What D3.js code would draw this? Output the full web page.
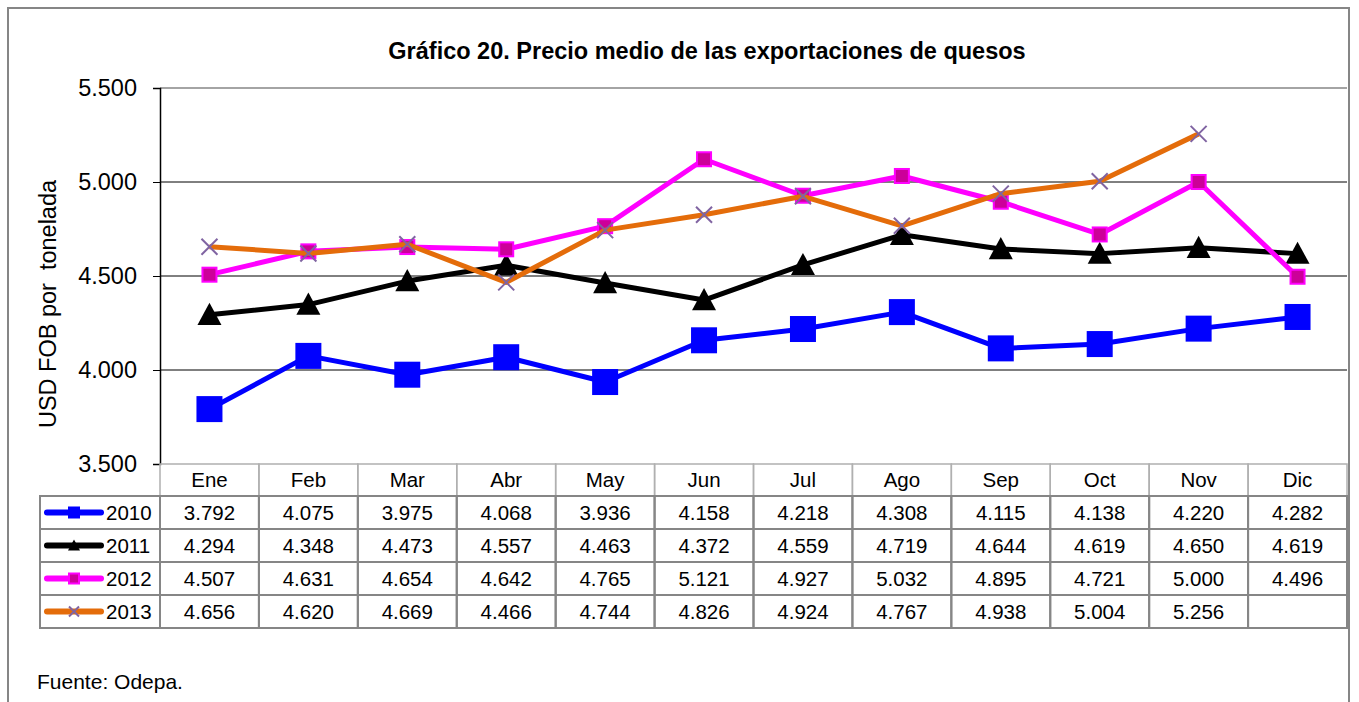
<!DOCTYPE html>
<html>
<head>
<meta charset="utf-8">
<script src="https://cdn.jsdelivr.net/npm/d3@7"></script>
<style>
  body { margin: 0; background: #fff; }
  svg { font-family: "Liberation Sans", Arial, sans-serif; }
</style>
</head>
<body>
<div id="chart"></div>
<script>
const months = ['Ene', 'Feb', 'Mar', 'Abr', 'May', 'Jun', 'Jul', 'Ago', 'Sep', 'Oct', 'Nov', 'Dic'];
const years = ['2010', '2011', '2012', '2013'];
const v2010 = [3792, 4075, 3975, 4068, 3936, 4158, 4218, 4308, 4115, 4138, 4220, 4282];
const v2011 = [4294, 4348, 4473, 4557, 4463, 4372, 4559, 4719, 4644, 4619, 4650, 4619];
const v2012 = [4507, 4631, 4654, 4642, 4765, 5121, 4927, 5032, 4895, 4721, 5000, 4496];
const v2013 = [4656, 4620, 4669, 4466, 4744, 4826, 4924, 4767, 4938, 5004, 5256, null];
const yTicks = [3500, 4000, 4500, 5000, 5500];

const series = [
  { name: years[0], values: v2010, line: '#0000FF', marker: 'square', size: 24, fill: '#0000FF', stroke: '#0000FF', width: 5 },
  { name: years[1], values: v2011, line: '#000000', marker: 'triangle', size: 24, fill: '#000000', stroke: '#000000', width: 5 },
  { name: years[2], values: v2012, line: '#FF00FF', marker: 'square', size: 14, fill: '#CC0099', stroke: '#FF00FF', width: 5 },
  { name: years[3], values: v2013, line: '#E46C0A', marker: 'cross', size: 16, fill: 'none', stroke: '#8064A2', width: 5 }
];

const W = 1359, H = 702;
const margin = { left: 160, right: 12, top: 88, bottom: 238 };
const plotW = W - margin.left - margin.right;
const plotH = H - margin.top - margin.bottom;

const fmt = d3.formatLocale({ decimal: ',', thousands: '.', grouping: [3], currency: ['', ''] }).format(',');

const svg = d3.select('#chart').append('svg')
  .attr('width', W)
  .attr('height', H);

// outer frame
svg.append('rect')
  .attr('x', 8).attr('y', 8)
  .attr('width', 1341).attr('height', 720)
  .attr('fill', 'none').attr('stroke', '#868686').attr('stroke-width', 2);

svg.append('text')
  .attr('x', 707).attr('y', 59)
  .attr('text-anchor', 'middle')
  .style('font-size', '23.5px').style('font-weight', 'bold')
  .text('Gráfico 20. Precio medio de las exportaciones de quesos');

const x = d3.scaleBand().domain(months).range([margin.left, margin.left + plotW]);
const y = d3.scaleLinear().domain([3500, 5500]).range([margin.top + plotH, margin.top]);

// gridlines
svg.append('g').selectAll('line')
  .data(yTicks.filter(d => d > 3500 && d < 5500))
  .enter().append('line')
  .attr('x1', margin.left).attr('x2', margin.left + plotW)
  .attr('y1', d => y(d)).attr('y2', d => y(d))
  .attr('stroke', '#000').attr('stroke-width', 1);

// top plot border
svg.append('line')
  .attr('x1', margin.left).attr('x2', margin.left + plotW)
  .attr('y1', y(5500)).attr('y2', y(5500))
  .attr('stroke', '#868686').attr('stroke-width', 1.5);

const yAxis = d3.axisLeft(y).tickValues(yTicks).tickSize(7).tickPadding(16).tickFormat(fmt);
const yg = svg.append('g')
  .attr('transform', `translate(${margin.left},0)`)
  .call(yAxis);
yg.select('.domain').attr('stroke', '#000').attr('stroke-width', 1.5);
yg.selectAll('.tick text').style('font-size', '23.5px').style('font-family', '"Liberation Sans", Arial, sans-serif').attr('fill', '#000');

svg.append('text')
  .attr('transform', 'translate(56, 304) rotate(-90)')
  .attr('text-anchor', 'middle')
  .style('font-size', '23.5px')
  .style('white-space', 'pre')
  .text('USD FOB por  tonelada');

function drawMarker(g, type, size, fill, stroke) {
  const s = size / 2;
  if (type === 'square') {
    g.append('rect').attr('x', -s).attr('y', -s).attr('width', size).attr('height', size)
      .attr('fill', fill).attr('stroke', stroke).attr('stroke-width', 2);
  } else if (type === 'triangle') {
    g.append('path').attr('d', `M0,${-s}L${s},${s * 0.85}L${-s},${s * 0.85}Z`).attr('fill', fill);
  } else {
    g.append('path').attr('d', `M${-s},${-s}L${s},${s}M${-s},${s}L${s},${-s}`)
      .attr('stroke', stroke).attr('stroke-width', 2).attr('fill', 'none');
  }
}

const line = d3.line()
  .defined(d => d.v != null)
  .x(d => x(d.m) + x.bandwidth() / 2)
  .y(d => y(d.v));

series.forEach(s => {
  const pts = s.values.map((v, i) => ({ m: months[i], v }));
  svg.append('path').datum(pts)
    .attr('d', line)
    .attr('fill', 'none')
    .attr('stroke', s.line)
    .attr('stroke-width', s.width)
    .attr('stroke-linejoin', 'round');
  pts.filter(p => p.v != null).forEach(p => {
    const g = svg.append('g').attr('transform', `translate(${x(p.m) + x.bandwidth() / 2},${y(p.v)})`);
    drawMarker(g, s.marker, s.size, s.fill, s.stroke);
  });
});

// data table
const rowH = 33;
const top0 = margin.top + plotH;
const headH = 32;
const tableLeft = 40;
const gray = '#868686';
const t = svg.append('g').style('font-size', '20.5px');

// header row
months.forEach(m => {
  t.append('rect').attr('x', x(m)).attr('y', top0).attr('width', x.bandwidth()).attr('height', headH)
    .attr('fill', 'none').attr('stroke', '#b0b0b0').attr('stroke-width', 1.5);
  t.append('text').attr('x', x(m) + x.bandwidth() / 2).attr('y', top0 + 23)
    .attr('text-anchor', 'middle').text(m);
});

series.forEach((s, r) => {
  const ry = top0 + headH + rowH * r;
  t.append('rect').attr('x', tableLeft).attr('y', ry).attr('width', margin.left - tableLeft).attr('height', rowH)
    .attr('fill', 'none').attr('stroke', gray).attr('stroke-width', 2);
  t.append('line').attr('x1', 47).attr('x2', 101).attr('y1', ry + rowH / 2).attr('y2', ry + rowH / 2)
    .attr('stroke', s.line).attr('stroke-width', s.width + 1).attr('stroke-linecap', 'round');
  const kg = t.append('g').attr('transform', `translate(74,${ry + rowH / 2})`);
  drawMarker(kg, s.marker, s.marker === 'triangle' ? 12 : 10, s.fill, s.stroke);
  t.append('text').attr('x', 106).attr('y', ry + 24).text(s.name);
  months.forEach((m, i) => {
    t.append('rect').attr('x', x(m)).attr('y', ry).attr('width', x.bandwidth()).attr('height', rowH)
      .attr('fill', 'none').attr('stroke', gray).attr('stroke-width', 2);
    const v = s.values[i];
    if (v != null) {
      t.append('text').attr('x', x(m) + x.bandwidth() / 2).attr('y', ry + 24)
        .attr('text-anchor', 'middle').text(fmt(v));
    }
  });
});

svg.append('text').attr('x', 37).attr('y', 689).style('font-size', '21px').text('Fuente: Odepa.');
</script>
</body>
</html>
